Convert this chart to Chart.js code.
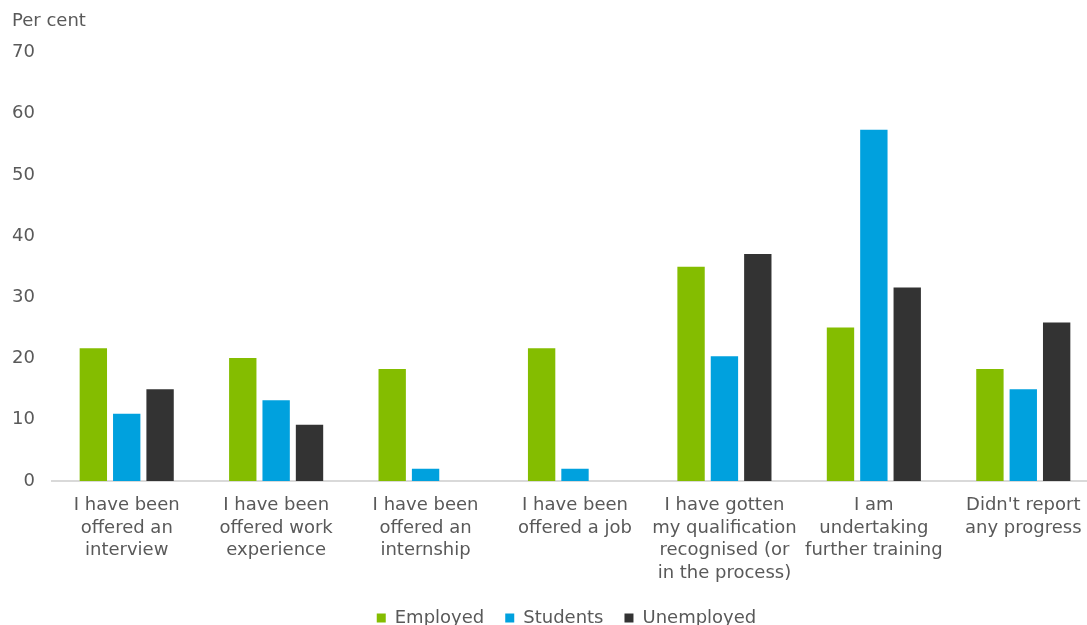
<!DOCTYPE html>
<html>
<head>
<meta charset="utf-8">
<script src="https://cdn.jsdelivr.net/npm/chart.js@4"></script>
<style>
  html, body { margin: 0; padding: 0; background: #fff; }
  .wrap { width: 1087px; height: 625px; position: relative; }
</style>
</head>
<body>
<div class="wrap"><canvas id="myChart"></canvas></div>
<script>
const labels = [
    ['I have been', 'offered an', 'interview'],
    ['I have been', 'offered work', 'experience'],
    ['I have been', 'offered an', 'internship'],
    ['I have been', 'offered a job'],
    ['I have gotten', 'my qualification', 'recognised (or', 'in the process)'],
    ['I am', 'undertaking', 'further training'],
    ["Didn't report", 'any progress'],
];

const employed = [21.7, 20.1, 18.3, 21.7, 35.0, 25.1, 18.3];
const students = [11.0, 13.2, 2.0, 2.0, 20.4, 57.4, 15.0];
const unemployed = [15.0, 9.2, null, null, 37.1, 31.6, 25.9];

const yTicks = [0, 10, 20, 30, 40, 50, 60, 70];

Chart.defaults.font.family = "'DejaVu Sans', Verdana, sans-serif";
Chart.defaults.font.size = 18;
Chart.defaults.color = '#595959';

// the plot runs a little past the right edge, category labels may run
// into the legend band, and the legend row hugs the bottom edge
const bleed = 11;
const bottomBand = {
    id: 'bottomBand',
    afterLayout(chart) {
        const x = chart.scales.x;
        x.right += bleed;
        x.width += bleed;
        x.bottom = chart.height;
        x.configure();
        chart.chartArea.right += bleed;
        chart.chartArea.width += bleed;
        chart.legend.top += 12;
        chart.legend.bottom += 12;
        chart.legend.left += 17;
        chart.legend.right += 17;
    }
};

const data = {
    labels: labels,
    datasets: [
        { label: 'Employed', data: employed, backgroundColor: '#84BD00' },
        { label: 'Students', data: students, backgroundColor: '#00A1DE' },
        { label: 'Unemployed', data: unemployed, backgroundColor: '#333333' },
    ]
};

const config = {
    type: 'bar',
    data: data,
    plugins: [bottomBand],
    options: {
        responsive: false,
        animation: false,
        layout: { padding: { left: 12, right: 0, top: 11, bottom: 0 } },
        datasets: {
            bar: { categoryPercentage: 0.67, barPercentage: 0.82 }
        },
        plugins: {
            title: {
                display: true,
                text: 'Per cent',
                align: 'start',
                font: { size: 18, weight: 'normal' },
                padding: { top: 0, bottom: 20 }
            },
            legend: {
                position: 'bottom',
                labels: { boxWidth: 9, boxHeight: 9, padding: 21 }
            },
            tooltip: { enabled: false }
        },
        scales: {
            x: {
                grid: { display: false, drawTicks: false },
                border: { color: '#d9d9d9', width: 2 },
                ticks: { maxRotation: 0, autoSkip: false, padding: 13, font: { lineHeight: 1.26 } },
                afterFit: (axis) => { axis.height = 95; }
            },
            y: {
                min: 0,
                max: 70,
                afterBuildTicks: (axis) => { axis.ticks = yTicks.map(v => ({ value: v })); },
                afterFit: (axis) => { axis.width = 40; },
                grid: { display: false, drawTicks: false },
                border: { display: false },
                ticks: { padding: 17 }
            }
        }
    }
};

const canvas = document.getElementById('myChart');
canvas.width = 1087;
canvas.height = 625;
const myChart = new Chart(canvas, config);
</script>
</body>
</html>
